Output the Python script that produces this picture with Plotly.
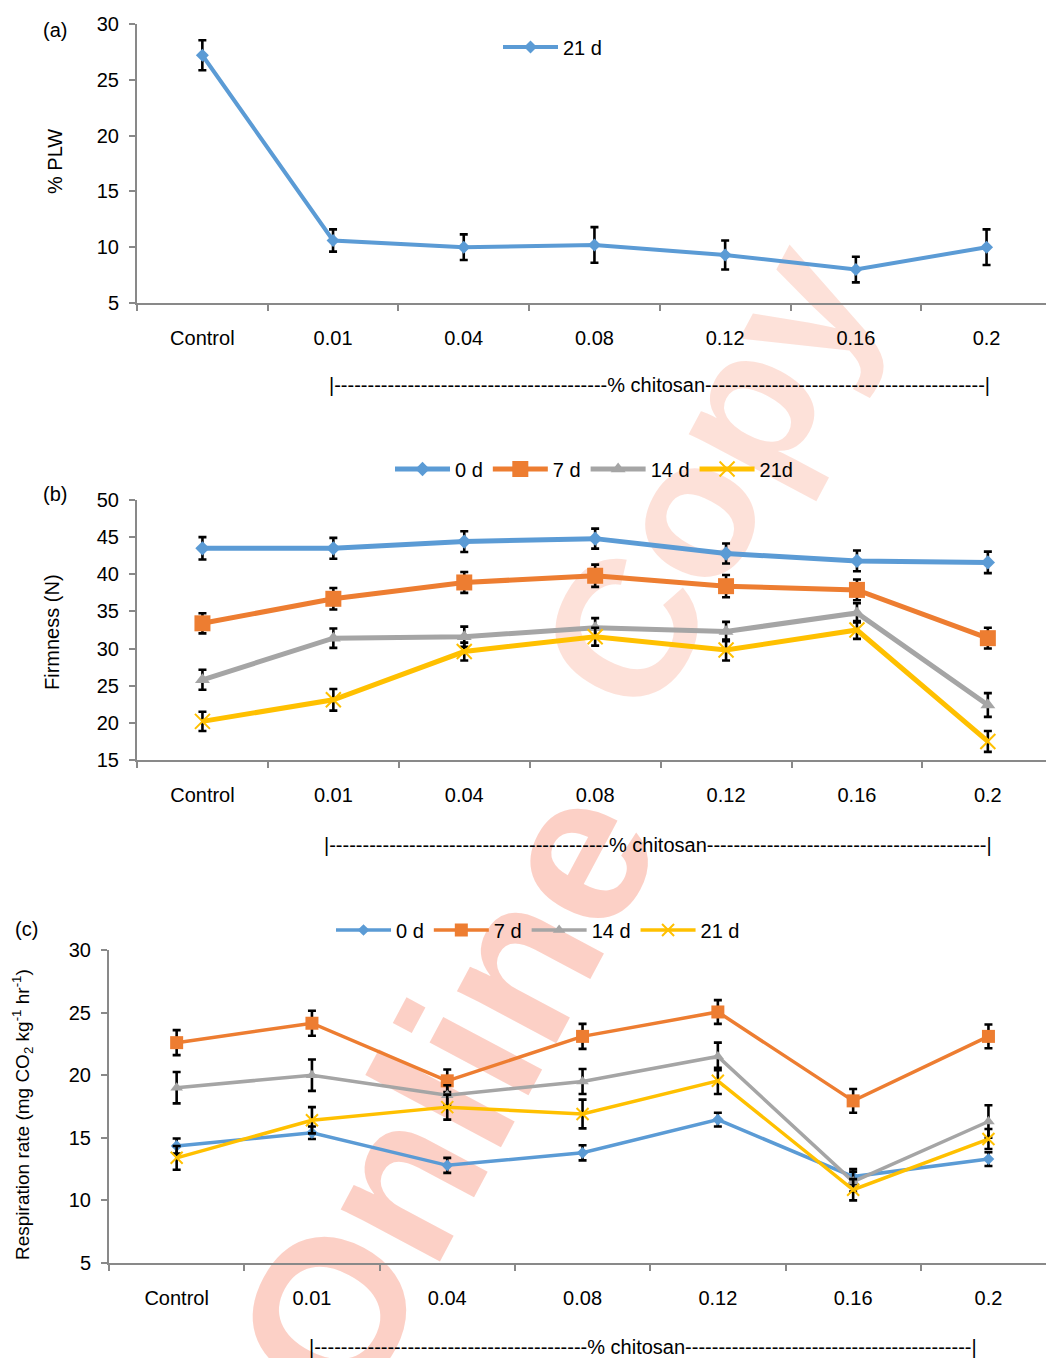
import plotly.graph_objects as go

# Chitosan treatments on the category axis
categories = ["Control", "0.01", "0.04", "0.08", "0.12", "0.16", "0.2"]
y_ticks_a = [5, 10, 15, 20, 25, 30]
y_ticks_b = [15, 20, 25, 30, 35, 40, 45, 50]
y_ticks_c = [5, 10, 15, 20, 25, 30]

# (a) Physiological loss in weight after 21 days
plw_21d = [27.2, 10.6, 10.0, 10.2, 9.3, 8.0, 10.0]
plw_21d_err = [1.35, 1.0, 1.15, 1.6, 1.3, 1.15, 1.6]

# (b) Firmness (N)
firm_0d = [43.5, 43.5, 44.4, 44.8, 42.8, 41.8, 41.6]
firm_0d_err = [1.5, 1.4, 1.4, 1.35, 1.35, 1.4, 1.45]
firm_7d = [33.4, 36.7, 38.9, 39.8, 38.4, 37.9, 31.4]
firm_7d_err = [1.35, 1.45, 1.4, 1.5, 1.5, 1.4, 1.4]
firm_14d = [25.8, 31.4, 31.6, 32.8, 32.3, 34.8, 22.4]
firm_14d_err = [1.35, 1.3, 1.35, 1.3, 1.3, 1.3, 1.6]
firm_21d = [20.2, 23.1, 29.6, 31.6, 29.8, 32.5, 17.5]
firm_21d_err = [1.3, 1.45, 1.2, 1.2, 1.4, 1.2, 1.4]

# (c) Respiration rate (mg CO2 kg-1 hr-1)
resp_0d = [14.35, 15.4, 12.8, 13.8, 16.45, 11.9, 13.3]
resp_0d_err = [0.6, 0.5, 0.6, 0.6, 0.55, 0.6, 0.55]
resp_7d = [22.6, 24.15, 19.55, 23.1, 25.05, 17.95, 23.1]
resp_7d_err = [1.0, 1.0, 0.9, 1.0, 0.95, 0.95, 0.95]
resp_14d = [19.0, 20.0, 18.4, 19.5, 21.5, 11.5, 16.3]
resp_14d_err = [1.25, 1.25, 0.8, 1.0, 1.1, 0.8, 1.3]
resp_21d = [13.4, 16.4, 17.45, 16.9, 19.55, 10.85, 14.9]
resp_21d_err = [0.95, 1.05, 1.0, 1.15, 1.05, 0.85, 0.8]

BLUE, ORANGE, GRAY, GOLD = "#5B9BD5", "#ED7D31", "#A5A5A5", "#FFC000"
AXIS_GRAY = "#898989"
FONT = "Liberation Sans, Arial, sans-serif"
W, H = 1046, 1358


def px(x):
    return x / W


def py(y):
    return 1 - y / H


def err(vals):
    return dict(type="data", array=vals, visible=True, color="black",
                thickness=2.6, width=4)


def series(y, e, name, color, symbol, size, lw, xa, ya, legend):
    marker = dict(symbol=symbol, size=size, color=color)
    if symbol == "x-thin":
        marker["line"] = dict(color=color, width=2)
    return go.Scatter(
        x=categories, y=y, error_y=err(e), name=name, mode="lines+markers",
        line=dict(color=color, width=lw), marker=marker,
        xaxis=xa, yaxis=ya, legend=legend, showlegend=True,
    )


fig = go.Figure()

# panel (a)
fig.add_trace(series(plw_21d, plw_21d_err, "21 d", BLUE, "diamond", 10, 4,
                     "x", "y", "legend"))

# panel (b)
for vals, e, name, col, sym, sz in [
    (firm_0d, firm_0d_err, "0 d", BLUE, "diamond", 11),
    (firm_7d, firm_7d_err, "7 d", ORANGE, "square", 16),
    (firm_14d, firm_14d_err, "14 d", GRAY, "triangle-up", 13),
    (firm_21d, firm_21d_err, "21d", GOLD, "x-thin", 15),
]:
    fig.add_trace(series(vals, e, name, col, sym, sz, 5, "x2", "y2", "legend2"))

# panel (c)
for vals, e, name, col, sym, sz in [
    (resp_0d, resp_0d_err, "0 d", BLUE, "diamond", 9),
    (resp_7d, resp_7d_err, "7 d", ORANGE, "square", 13),
    (resp_14d, resp_14d_err, "14 d", GRAY, "triangle-up", 11),
    (resp_21d, resp_21d_err, "21 d", GOLD, "x-thin", 12),
]:
    fig.add_trace(series(vals, e, name, col, sym, sz, 3.5, "x3", "y3", "legend3"))


def xaxis(left, spacing, anchor):
    return dict(
        domain=[px(left), 1], anchor=anchor, type="category",
        categoryorder="array", categoryarray=categories,
        range=[-0.5, -0.5 + (W - left) / spacing],
        tickson="boundaries", ticks="outside", ticklen=6, tickwidth=2,
        tickcolor=AXIS_GRAY, showline=True, linecolor=AXIS_GRAY, linewidth=2,
        showgrid=False, zeroline=False, tickfont=dict(size=20, color="black"),
        ticklabelstandoff=16, fixedrange=True,
    )


def yaxis(top, bottom, rng, ticks, anchor):
    return dict(
        domain=[py(bottom), py(top)], anchor=anchor, range=rng,
        tickvals=ticks, ticks="outside", ticklen=6, tickwidth=2,
        tickcolor=AXIS_GRAY, showline=True, linecolor=AXIS_GRAY, linewidth=2,
        showgrid=False, zeroline=False, tickfont=dict(size=20, color="black"),
        ticklabelstandoff=6, fixedrange=True,
    )


def legend(x, y):
    return dict(
        x=px(x), y=py(y), xanchor="left", yanchor="middle", orientation="h",
        font=dict(size=20, color="black", family=FONT),
        bgcolor="rgba(0,0,0,0)", itemwidth=55, tracegroupgap=0,
        itemclick=False, itemdoubleclick=False,
    )


fig.update_layout(
    width=W, height=H,
    margin=dict(l=0, r=0, t=0, b=0, autoexpand=False),
    paper_bgcolor="white", plot_bgcolor="rgba(0,0,0,0)",
    font=dict(family=FONT, size=20, color="black"),
    xaxis=xaxis(137, 130.7, "y"),
    yaxis=yaxis(24, 303, [5, 30], y_ticks_a, "x"),
    xaxis2=xaxis(137, 130.9, "y2"),
    yaxis2=yaxis(500, 760, [15, 50], y_ticks_b, "x2"),
    xaxis3=xaxis(109, 135.3, "y3"),
    yaxis3=yaxis(950, 1263, [5, 30], y_ticks_c, "x3"),
    legend=legend(498, 47),
    legend2=legend(390, 469),
    legend3=legend(331, 930),
)

# panel letters and axis titles
notes = [
    ("(a)", 55, 30, 0, 20),
    ("(b)", 55, 494, 0, 20),
    ("(c)", 26, 929, 0, 20),
    ("% PLW", 55, 162, -90, 20),
    ("Firmness (N)", 52, 632, -90, 20),
    ("Respiration rate (mg CO<sub>2</sub> kg<sup>-1</sup> hr<sup>-1</sup>)",
     22, 1115, -90, 19),
]
for text, x, y, ang, size in notes:
    fig.add_annotation(text=text, x=px(x), y=py(y), xref="paper", yref="paper",
                       showarrow=False, textangle=ang,
                       font=dict(size=size, color="black"),
                       xanchor="center", yanchor="middle")

# "% chitosan" span markers under each x axis
for cx, cy, nl, nr in [(659, 385, 41, 42), (658, 845, 42, 42), (643, 1347, 41, 43)]:
    fig.add_annotation(text="|" + "-" * nl + "% chitosan" + "-" * nr + "|",
                       x=px(cx), y=py(cy), xref="paper", yref="paper",
                       showarrow=False, font=dict(size=20, color="black"),
                       xanchor="center", yanchor="middle")

# diagonal watermark behind the data, in two words along the same slant
ux, uy = 0.47, -0.883
for word, (cx, cy), size, color in [
    ("Online", (428, 1085), 212, "rgba(246,98,66,0.30)"),
    ("Copy", (690, 468), 196, "rgba(246,118,84,0.22)"),
]:
    fig.add_shape(
        type="line", xref="paper", yref="paper",
        x0=px(cx - 100 * ux), y0=py(cy - 100 * uy),
        x1=px(cx + 100 * ux), y1=py(cy + 100 * uy),
        line=dict(color="rgba(0,0,0,0)", width=0), layer="below",
        label=dict(text=word, textposition="middle", yanchor="middle",
                   font=dict(size=size, color=color, family=FONT, weight="bold")),
    )

fig.write_html("out.html")
